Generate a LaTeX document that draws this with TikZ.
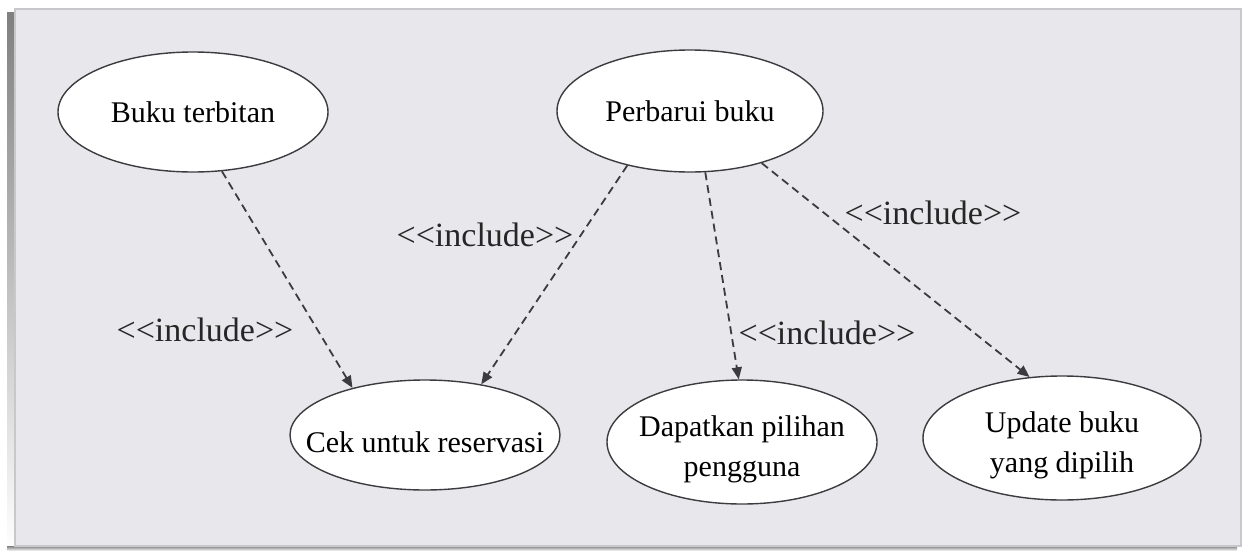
\documentclass[tikz,border=0pt]{standalone}
\usepackage{fontspec}
\setmainfont{Liberation Serif}
\usetikzlibrary{shapes.geometric,arrows.meta}

\definecolor{panel}{RGB}{232,232,236}
\definecolor{rim}{RGB}{200,200,204}
\definecolor{shade}{RGB}{125,125,128}
\definecolor{ink}{RGB}{60,60,64}
\newcommand{\ucdrop}{\rule{0pt}{18pt}}

\begin{document}
\begin{tikzpicture}[x=0.5pt,y=-0.5pt,>={Triangle[length=6pt,width=5pt]}]
			\tikzstyle{usecase}=[ellipse,draw=ink,fill=white,line width=0.7pt,inner xsep=-14pt,inner ysep=-9pt,align=center,font=\fontsize{15}{20}\selectfont]
			\tikzstyle{incl}=[font=\fontsize{17}{20}\selectfont,text=black!85]
			\tikzstyle{dep}=[->,dash pattern=on 4pt off 2.5pt,draw=ink,line width=0.9pt]
			% panel with its shadow
			\useasboundingbox (0,0) rectangle (1249,552);
			\fill[white] (0,0) rectangle (1249,552);
			\fill[shade] (7,12) rectangle (15,551);
			\fill[shade] (7,546) rectangle (1237,551);
			\filldraw[fill=panel,draw=rim,line width=1pt] (15,9) rectangle (1241,546);

			\node[usecase,minimum width=135pt,minimum height=60pt] (terbitan) at (193,112) {Buku terbitan};
			\node[usecase,minimum width=133pt,minimum height=61pt] (perbarui) at (690,111) {Perbarui buku};
			\node[usecase,minimum width=135pt,minimum height=55pt] (cek) at (425,435) {\ucdrop Cek untuk reservasi};
			\node[usecase,minimum width=135pt,minimum height=62pt] (pilihan) at (742,442) {\ucdrop Dapatkan pilihan\\pengguna};
			\node[usecase,minimum width=139pt,minimum height=62pt] (update) at (1062,438) {\ucdrop Update buku\\yang dipilih};

			\foreach \name/\x/\y in {ia/205/330, ib/485/235, ic/827/333, id/933/213}
				\node[incl] (\name) at (\x,\y) {<{}<include>{}>};

			\draw[dep] (terbitan.-64) -- (cek.147);
			\draw[dep] (perbarui.-139) -- (cek.42);
			\draw[dep] (perbarui.-76) -- (pilihan.93);
			\draw[dep] (perbarui.-36) -- (update.118);
		\end{tikzpicture}
\end{document}
